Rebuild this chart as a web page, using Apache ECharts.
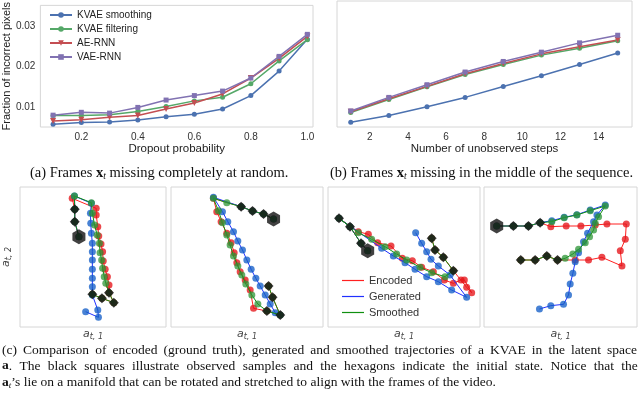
<!DOCTYPE html>
<html>
<head>
<meta charset="utf-8">
<script src="https://cdn.jsdelivr.net/npm/echarts@6/dist/echarts.min.js"></script>
<style>
  html, body { margin: 0; padding: 0; background: #fff; }
  #chart { width: 640px; height: 400px; }
</style>
</head>
<body>
<div id="chart"></div>
<script>
// ---- top row: error curves ----
const dropoutProb = [0.1, 0.2, 0.3, 0.4, 0.5, 0.6, 0.7, 0.8, 0.9, 1.0];
const dropSmoothing = [0.0059, 0.0063, 0.0064, 0.0069, 0.0077, 0.0083, 0.0096, 0.0129, 0.0189, 0.0267];
const dropFiltering = [0.0080, 0.0080, 0.0082, 0.0090, 0.0102, 0.0116, 0.0125, 0.0158, 0.0214, 0.0266];
const dropAeRnn     = [0.0067, 0.0070, 0.0076, 0.0080, 0.0096, 0.0111, 0.0133, 0.0172, 0.0220, 0.0274];
const dropVaeRnn    = [0.0081, 0.0088, 0.0086, 0.0100, 0.0118, 0.0129, 0.0140, 0.0172, 0.0225, 0.0279];

const unobservedSteps = [1, 3, 5, 7, 9, 11, 13, 15];
const stepSmoothing = [0.0063, 0.0079, 0.0100, 0.0122, 0.0148, 0.0173, 0.0200, 0.0227];
const stepFiltering = [0.0086, 0.0117, 0.0147, 0.0176, 0.0200, 0.0222, 0.0238, 0.0256];
const stepAeRnn     = [0.0088, 0.0119, 0.0148, 0.0178, 0.0202, 0.0225, 0.0242, 0.0258];
const stepVaeRnn    = [0.0090, 0.0122, 0.0152, 0.0182, 0.0207, 0.0229, 0.0251, 0.0269];

const dropTicks = [0.2, 0.4, 0.6, 0.8, 1.0];
const stepTicks = [2, 4, 6, 8, 10, 12, 14];
const errTicks = [0.01, 0.02, 0.03];

// ---- bottom row: latent trajectories (a_t,1 , a_t,2), arbitrary units ----
const p1Encoded = [[226,170],[213,125],[213,88],[205,55],[280,85],[280,105],[285,140],[288,168],[295,192],[300,215],[302,243],[308,268],[315,290],[320,315],[320,338],[335,368],[298,355],[268,343]];
const p1Generated = [[226,170],[213,125],[213,88],[212,48],[265,70],[262,100],[263,130],[265,160],[268,190],[268,215],[268,240],[268,268],[268,295],[268,320],[268,345],[285,390],[287,412],[247,395]];
const p1Smoothed = [[226,170],[213,125],[213,88],[212,48],[265,68],[268,100],[275,135],[283,165],[290,190],[292,218],[297,240],[300,265],[305,290],[310,310],[320,338],[335,368],[298,355],[268,343]];
const p1Observed = [[213,125],[213,88],[268,343],[298,355],[320,338],[335,368]];
const p1Initial = [[226,170]];

const p2Encoded = [[325,117],[295,102],[262,93],[228,80],[145,55],[155,95],[168,125],[185,160],[198,188],[207,218],[215,248],[225,275],[240,300],[255,330],[265,385],[305,393],[345,405],[322,352],[310,318]];
const p2Generated = [[325,117],[295,102],[262,93],[228,80],[145,52],[172,95],[188,125],[205,155],[218,183],[232,210],[245,240],[258,268],[272,295],[285,318],[300,345],[315,372],[330,398],[345,405]];
const p2Smoothed = [[325,117],[295,102],[262,93],[228,80],[185,68],[145,55],[160,92],[172,128],[185,165],[195,195],[205,228],[218,258],[230,285],[242,312],[260,345],[278,372],[305,393],[345,405],[322,352],[310,318]];
const p2Observed = [[295,102],[262,93],[228,80],[310,318],[322,352],[345,405],[305,393]];
const p2Initial = [[325,117]];

const p3Encoded = [[128,212],[108,190],[75,140],[42,115],[100,155],[130,163],[158,188],[198,198],[232,235],[262,242],[290,262],[325,275],[358,300],[385,310],[408,300],[418,300],[440,338],[425,322],[385,272],[355,232],[330,210],[320,175]];
const p3Generated = [[128,212],[108,190],[75,140],[42,115],[170,205],[205,228],[240,248],[270,268],[305,290],[340,305],[380,330],[425,352],[375,285],[340,258],[318,238],[305,215],[290,190],[272,158]];
const p3Smoothed = [[128,212],[108,190],[75,140],[42,115],[100,158],[140,178],[180,200],[215,222],[245,240],[285,262],[320,278],[360,290],[385,272],[355,232],[330,210],[320,175]];
const p3Observed = [[42,115],[75,140],[108,190],[320,175],[330,210],[355,232],[385,272]];
const p3Initial = [[128,212]];

const p4Encoded = [[50,138],[100,138],[145,138],[180,128],[212,140],[258,138],[302,138],[345,135],[380,132],[438,132],[435,178],[420,212],[425,258],[365,232],[325,240],[285,240],[232,240],[200,228],[165,240],[122,240]];
const p4Generated = [[50,138],[100,138],[145,138],[180,128],[215,122],[252,112],[290,104],[330,90],[375,75],[350,105],[340,125],[322,160],[310,185],[295,218],[285,245],[278,280],[270,312],[265,345],[250,373],[212,377],[178,387]];
const p4Smoothed = [[50,138],[100,138],[145,138],[180,128],[215,125],[252,113],[290,105],[330,92],[375,78],[355,110],[345,130],[340,150],[328,170],[315,188],[295,208],[278,222],[255,235],[232,240],[200,228],[165,240],[122,240]];
const p4Observed = [[100,138],[145,138],[180,128],[122,240],[165,240],[200,228],[232,240]];
const p4Initial = [[50,138]];

// panel extents in the same units
const panelExtents = [
  { x: [42, 498], y: [21, 441] },
  { x: [18, 473], y: [21, 441] },
  { x: [9, 465], y: [21, 441] },
  { x: [12, 470], y: [21, 441] }
];
const panels = [
  [p1Encoded, p1Generated, p1Smoothed, p1Observed, p1Initial],
  [p2Encoded, p2Generated, p2Smoothed, p2Observed, p2Initial],
  [p3Encoded, p3Generated, p3Smoothed, p3Observed, p3Initial],
  [p4Encoded, p4Generated, p4Smoothed, p4Observed, p4Initial]
];

const pairs = (xs, ys) => xs.map((x, i) => [x, ys[i]]);

const curveColors = ['#4C72B0', '#55A868', '#C44E52', '#8172B2'];
const curveNames = ['KVAE smoothing', 'KVAE filtering', 'AE-RNN', 'VAE-RNN'];
const curveSymbols = ['circle', 'circle', 'triangle', 'rect'];
const hexagon = 'path://M0,-10 L8.66,-5 L8.66,5 L0,10 L-8.66,5 L-8.66,-5 Z';

const chart = echarts.init(document.getElementById('chart'), null, { renderer: 'canvas' });

const labelStyle = { color: '#333', fontSize: 10, fontFamily: 'Liberation Sans' };
const frame = { show: true, borderColor: '#d6d6d6', borderWidth: 1, backgroundColor: '#fff' };

const grids = [
  Object.assign({ left: 39, top: 1, width: 274, height: 126 }, frame),
  Object.assign({ left: 337, top: 1, width: 295, height: 126 }, frame),
  Object.assign({ left: 14, top: 187, width: 152, height: 140 }, frame),
  Object.assign({ left: 171, top: 187, width: 152, height: 140 }, frame),
  Object.assign({ left: 328, top: 187, width: 152, height: 140 }, frame),
  Object.assign({ left: 484, top: 187, width: 153, height: 140 }, frame)
];

const hidden = { axisLine: { show: false }, axisTick: { show: false }, splitLine: { show: false } };
const mathName = {
  a: { fontFamily: 'DejaVu Sans', fontStyle: 'italic', fontSize: 11, color: '#444' },
  s: { fontFamily: 'DejaVu Sans', fontStyle: 'italic', fontSize: 8, color: '#444', padding: [5, 0, 0, 0] }
};

const xAxes = [
  Object.assign({
    type: 'value', gridIndex: 0, min: 0.055, max: 1.02,
    name: 'Dropout probability', nameLocation: 'middle', nameGap: 15,
    nameTextStyle: { color: '#222', fontSize: 11.5, fontFamily: 'Liberation Sans' },
    axisLabel: Object.assign({ margin: 5, customValues: dropTicks, formatter: v => v.toFixed(1) }, labelStyle)
  }, hidden),
  Object.assign({
    type: 'value', gridIndex: 1, min: 0.28, max: 15.75,
    name: 'Number of unobserved steps', nameLocation: 'middle', nameGap: 15,
    nameTextStyle: { color: '#222', fontSize: 11.5, fontFamily: 'Liberation Sans' },
    axisLabel: Object.assign({ margin: 5, customValues: stepTicks, formatter: v => String(v) }, labelStyle)
  }, hidden)
];
const yAxes = [
  Object.assign({
    type: 'value', gridIndex: 0, min: 0.0052, max: 0.035,
    name: 'Fraction of incorrect pixels', nameLocation: 'middle', nameGap: 24, nameRotate: 90,
    nameTextStyle: { color: '#222', fontSize: 11, fontFamily: 'Liberation Sans' },
    axisLabel: Object.assign({ margin: 5, customValues: errTicks, formatter: v => v.toFixed(2) }, labelStyle)
  }, hidden),
  Object.assign({
    type: 'value', gridIndex: 1, min: 0.0052, max: 0.035, axisLabel: { show: false }
  }, hidden)
];

panelExtents.forEach((ext, k) => {
  xAxes.push(Object.assign({
    type: 'value', gridIndex: k + 2, min: ext.x[0], max: ext.x[1],
    axisLabel: { show: false },
    name: '{a|a}{s|t, 1}', nameLocation: 'middle', nameGap: 1,
    nameTextStyle: { rich: mathName }
  }, hidden));
  yAxes.push(Object.assign({
    type: 'value', gridIndex: k + 2, min: ext.y[0], max: ext.y[1], inverse: true,
    axisLabel: { show: false },
    name: k === 0 ? '{a|a}{s|t, 2}' : '', nameLocation: 'middle', nameGap: 7, nameRotate: 90,
    nameTextStyle: { rich: mathName }
  }, hidden));
});

const series = [];
[[dropSmoothing, dropFiltering, dropAeRnn, dropVaeRnn], [stepSmoothing, stepFiltering, stepAeRnn, stepVaeRnn]].forEach((set, g) => {
  const xs = g === 0 ? dropoutProb : unobservedSteps;
  set.forEach((ys, i) => {
    series.push({
      type: 'line', name: curveNames[i], xAxisIndex: g, yAxisIndex: g,
      data: pairs(xs, ys),
      symbol: curveSymbols[i], symbolSize: i === 2 ? 6 : 5, symbolRotate: i === 2 ? 180 : 0,
      showSymbol: true,
      lineStyle: { color: curveColors[i], width: 1.5 },
      itemStyle: { color: curveColors[i] },
      emphasis: { disabled: true }, animation: false
    });
  });
});

const trajLine = ['#ff2020', '#2030ff', '#109010'];
const trajMark = ['rgba(230,20,25,0.78)', 'rgba(20,95,200,0.78)', 'rgba(45,150,55,0.75)'];
const trajNames = ['Encoded', 'Generated', 'Smoothed'];
panels.forEach((pd, k) => {
  for (let j = 0; j < 3; j++) {
    series.push({
      type: 'line', name: trajNames[j], xAxisIndex: k + 2, yAxisIndex: k + 2,
      data: pd[j], symbol: 'circle', symbolSize: 7, showSymbol: true,
      lineStyle: { color: trajLine[j], width: 1 },
      itemStyle: { color: trajMark[j] },
      emphasis: { disabled: true }, animation: false, z: 2 + j
    });
  }
  series.push({
    type: 'scatter', name: 'observed', xAxisIndex: k + 2, yAxisIndex: k + 2,
    data: pd[3], symbol: 'diamond', symbolSize: [10, 10],
    itemStyle: { color: '#111' }, emphasis: { disabled: true }, animation: false, z: 6
  });
  series.push({
    type: 'scatter', name: 'initial', xAxisIndex: k + 2, yAxisIndex: k + 2,
    data: pd[4], symbol: hexagon, symbolSize: [13, 15],
    itemStyle: { color: '#111' }, emphasis: { disabled: true }, animation: false, z: 6
  });
});

// ---- captions ----
const serif = 'Liberation Serif';
const capSize = 13.5;
const capRich = {
  b: { fontFamily: serif, fontWeight: 'bold', fontSize: capSize, color: '#111' },
  s: { fontFamily: serif, fontStyle: 'italic', fontSize: 9, color: '#111', padding: [6, 0, 0, 0] }
};
const measureCtx = document.createElement('canvas').getContext('2d');
const plainWidth = (str) => {
  measureCtx.font = capSize + 'px "' + serif + '"';
  return measureCtx.measureText(str.replace(/\{\w\|([^}]*)\}/g, '$1')).width;
};
// spread words so a line fills the given width (justified paragraph)
const justify = (line, width, key) => {
  const words = line.split(' ');
  const used = words.reduce((s, w) => s + plainWidth(w), 0);
  const gap = Math.max(3, (width - used) / (words.length - 1));
  capRich[key] = { width: gap, fontSize: capSize };
  return words.join('{' + key + '| }');
};
const caption = (text, left, top) => ({
  text: text, left: left, top: top, padding: 0,
  textStyle: { fontFamily: serif, fontSize: capSize, fontWeight: 'normal', color: '#111', rich: capRich }
});

const capLine1 = '(c) Comparison of encoded (ground truth), generated and smoothed trajectories of a KVAE in the latent space';
const capLine2 = '{b|a}. The black squares illustrate observed samples and the hexagons indicate the initial state. Notice that the';
const capLine3 = '{b|a}{s|t}\u2019s lie on a manifold that can be rotated and stretched to align with the frames of the video.';
const capText1 = justify(capLine1, 635, 'gapA');
const capText2 = justify(capLine2, 635, 'gapB');

const subRich = {
  b: { fontFamily: serif, fontWeight: 'bold', fontSize: 14.5, color: '#111' },
  s: { fontFamily: serif, fontStyle: 'italic', fontSize: 9.5, color: '#111', padding: [6, 0, 0, 0] }
};
const subCaption = (text, left, top) => ({
  text: text, left: left, top: top, padding: 0,
  textStyle: { fontFamily: serif, fontSize: 14.5, fontWeight: 'normal', color: '#111', rich: subRich }
});

chart.setOption({
  backgroundColor: '#fff',
  animation: false,
  title: [
    subCaption('(a) Frames {b|x}{s|t} missing completely at random.', 30, 165),
    subCaption('(b) Frames {b|x}{s|t} missing in the middle of the sequence.', 330, 165),
    caption(capText1, 2, 343),
    caption(capText2, 2, 359),
    caption(capLine3, 2, 375)
  ],
  legend: [
    {
      data: curveNames, orient: 'vertical', left: 44, top: 5,
      itemWidth: 22, itemHeight: 7, itemGap: 4,
      textStyle: { color: '#222', fontSize: 10, fontFamily: 'Liberation Sans' },
      selectedMode: false
    },
    {
      data: trajNames.map((n, j) => ({ name: n, icon: 'rect', itemStyle: { color: trajLine[j] } })),
      orient: 'vertical', left: 337, top: 270,
      itemWidth: 22, itemHeight: 1.2, itemGap: 5,
      textStyle: { color: '#333', fontSize: 11, fontFamily: 'Liberation Sans' },
      selectedMode: false
    }
  ],
  grid: grids,
  xAxis: xAxes,
  yAxis: yAxes,
  series: series
});
</script>
</body>
</html>
